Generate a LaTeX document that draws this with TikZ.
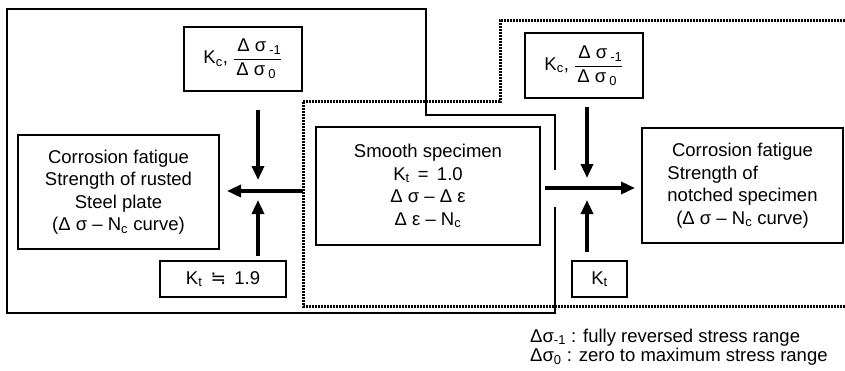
\documentclass[tikz,border=0pt]{standalone}
\usepackage{fontspec}
\setmainfont{Liberation Sans}
\newfontfamily\symfont{DejaVu Sans}
\usetikzlibrary{arrows.meta}

\tikzset{
  box/.style={draw, line width=2.6pt, align=center, inner sep=0pt},
  flow/.style={line width=3.4pt, -{Triangle[length=14pt,width=12pt]}},
  zone/.style={line width=1.6pt},
  dotzone/.style={line width=3pt, dash pattern=on 2pt off 1pt},
}
\newcommand{\dsig}[1]{\ensuremath{\displaystyle\frac{\mbox{\,Δ σ\,\textsubscript{#1}}}{\mbox{Δ σ\,\textsubscript{0}\,}}}}

\begin{document}
\begin{tikzpicture}[x=1pt, y=-1pt, font=\fontsize{18.5}{22.5}\selectfont]
    \useasboundingbox (0,0) rectangle (845,370);

    % Frames
    \draw[zone] (555,170) -- (555,115) -- (426,115) -- (426,9) -- (7,9) -- (7,313) -- (555,313) -- (555,207);
    \draw[dotzone] (845,20) -- (500,20) -- (500,101) -- (303,101) -- (303,306) -- (845,306);

    % Boxes
    \node[box, minimum width=118pt, minimum height=64pt] (kcL) at (243,59) {K\textsubscript{c}, \dsig{-1}};
    \node[box, minimum width=201pt, minimum height=114pt] (rusted) at (118.5,192)
        {Corrosion fatigue\\Strength of rusted\\Steel plate\\(Δ σ – N\textsubscript{c} curve)};
    \node[box, minimum width=126pt, minimum height=36pt] (ktL) at (223,279) {K\textsubscript{t} \,{\symfont ≒}\, 1.9};
    \node[box, minimum width=224pt, minimum height=118pt] (smooth) at (428,186)
        {Smooth specimen\\K\textsubscript{t} \,=\, 1.0\\Δ σ – Δ ε\\Δ ε – N\textsubscript{c}};
    \node[box, minimum width=118pt, minimum height=65pt] (kcR) at (584,65.5) {K\textsubscript{c}, \dsig{-1}};
    \node[box, minimum width=201pt, minimum height=115pt] (notched) at (742.5,185.5)
        {Corrosion fatigue\\\rlap{Strength of}\phantom{notched specimen}\\notched specimen\\(Δ σ – N\textsubscript{c} curve)};
    \node[box, minimum width=55pt, minimum height=36pt] (ktR) at (599.5,279) {K\textsubscript{t}};

    % Arrows
    \coordinate (lsrc) at (303,191);
    \coordinate (lend) at (227,191);
    \coordinate (ldn1) at (258,110);
    \coordinate (ldn2) at (258,180);
    \coordinate (lup1) at (258,256);
    \coordinate (lup2) at (258,200);
    \draw[flow] (lsrc) -- (lend);
    \draw[flow] (ldn1) -- (ldn2);
    \draw[flow] (lup1) -- (lup2);

    \coordinate (rsrc) at (545,188);
    \coordinate (rend) at (635,188);
    \coordinate (rdn1) at (587,107);
    \coordinate (rdn2) at (587,178);
    \coordinate (rup1) at (587,252);
    \coordinate (rup2) at (587,200);
    \draw[flow] (rsrc) -- (rend);
    \draw[flow] (rdn1) -- (rdn2);
    \draw[flow] (rup1) -- (rup2);

    % Legend
    \node[anchor=base west, inner sep=0pt] (lg1) at (530,342) {Δσ\textsubscript{-1} : fully reversed stress range};
    \node[anchor=base west, inner sep=0pt] (lg2) at (530,361) {Δσ\textsubscript{0} : zero to maximum stress range};
\end{tikzpicture}
\end{document}
